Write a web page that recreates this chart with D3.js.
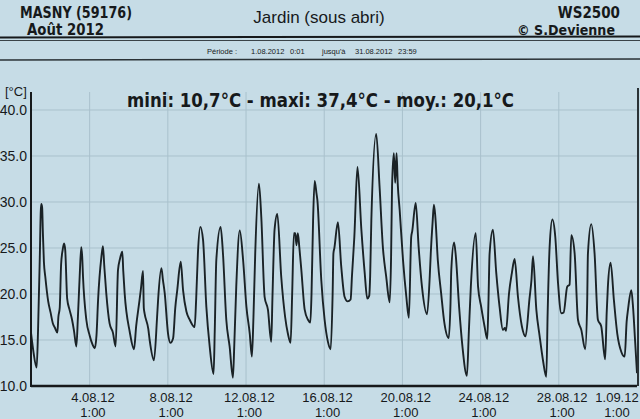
<!DOCTYPE html>
<html><head><meta charset="utf-8">
<script src="https://cdn.jsdelivr.net/npm/d3@7"></script>
<style>html,body{margin:0;padding:0;background:#c6dce6;overflow:hidden}</style>
</head><body>
<svg id="c" width="640" height="419"></svg>
<script>
// time in days since 1.08.2012 0:00, temperature in °C
const tDay = [
 0.0,0.12,0.29,0.36,0.45,0.5,0.53,0.57,0.61,0.66,0.73,0.88,
 1.0,1.12,1.23,1.35,1.40,1.47,1.54,1.62,1.69,1.75,1.85,1.97,
 2.1,2.2,2.32,2.40,2.49,2.57,2.62,2.66,2.83,
 3.0,3.15,3.26,3.35,3.43,3.6,3.68,3.75,3.85,
 4.02,4.19,4.33,4.45,4.55,4.67,4.72,4.79,
 5.05,5.27,5.38,5.55,5.62,5.73,5.77,5.81,
 6.0,6.07,6.29,6.45,6.5,6.67,6.75,6.84,
 7.01,7.13,7.27,7.38,7.48,7.66,7.78,7.95,
 8.12,8.37,8.45,8.54,8.66,8.8,8.97,
 9.14,9.34,9.40,9.48,9.7,9.82,9.99,
 10.16,10.33,10.4,10.5,10.68,10.85,
 11.02,11.19,11.3,11.38,11.47,11.66,11.78,11.95,
 12.12,12.29,12.35,12.46,12.6,12.8,
 13.0,13.14,13.28,13.36,13.45,13.52,13.58,13.65,13.73,13.83,
 14.0,14.17,14.29,14.35,14.43,14.51,14.6,14.65,14.85,
 15.02,15.19,15.33,15.43,15.47,15.52,15.7,15.87,
 16.04,16.2,16.35,16.42,16.54,16.7,16.9,
 17.07,17.2,17.3,17.35,17.41,17.66,17.83,
 18.0,18.17,18.35,18.42,18.47,18.56,18.63,18.7,18.76,18.86,
 19.03,19.2,19.33,19.45,19.5,19.68,19.83,
 20.0,20.26,20.4,20.45,20.55,20.61,20.68,20.81,20.98,
 21.15,21.37,21.46,21.5,21.64,21.72,21.9,
 22.07,22.3,22.4,22.5,22.75,22.87,
 23.03,23.2,23.34,23.4,23.46,23.63,23.8,23.97,
 24.14,24.24,24.3,24.45,24.6,24.74,24.91,
 25.11,25.3,25.5,25.6,25.68,25.85,
 26.02,26.19,26.36,26.43,26.53,26.67,26.82,26.96,
 27.13,27.25,27.43,27.55,27.64,27.81,27.98,
 28.15,28.35,28.45,28.49,28.66,28.83,
 29.0,29.17,29.37,29.45,29.51,29.65,29.82,29.99,
 30.2,30.37,30.47,30.54,30.71,30.8,30.9,31.0
];
const tempC = [
 15.8,13.8,12.0,16.0,24.0,29.0,29.8,29.4,26.5,23.5,21.9,19.2,
 18.0,16.8,16.3,15.8,17.5,18.5,23.2,24.8,25.5,24.8,19.5,18.3,
 17.2,16.0,14.3,17.5,21.9,25.1,24.0,21.9,17.2,
 15.5,14.5,14.1,15.5,19.3,24.0,25.2,23.0,20.1,
 16.8,15.8,14.3,22.6,23.8,24.6,22.5,20.1,
 15.9,14.0,16.5,19.3,20.5,22.5,18.5,17.9,
 16.2,15.0,12.8,17.5,19.3,22.8,21.5,20.1,
 15.7,14.7,15.2,18.5,20.4,23.5,20.4,18.1,
 17.2,16.4,19.5,24.5,27.3,25.9,18.6,
 14.3,11.3,16.0,23.7,27.3,24.4,17.2,
 14.3,10.9,14.5,20.8,26.9,23.7,
 18.6,15.7,13.2,17.5,24.4,32.0,28.4,19.7,
 18.3,14.8,19.5,27.0,28.7,21.9,
 17.5,15.7,14.7,20.0,26.6,26.6,25.3,26.6,25.0,22.6,
 18.3,17.2,16.9,20.0,28.0,32.3,31.0,30.2,21.5,
 17.2,14.8,14.0,20.0,24.4,25.0,27.8,23.0,
 19.7,19.2,19.4,22.0,26.2,33.8,27.0,
 22.3,19.5,19.8,22.0,28.0,37.4,31.7,
 25.1,21.9,19.1,24.0,31.7,35.3,32.1,35.3,32.0,29.1,
 23.7,19.7,17.4,26.2,26.8,29.9,25.1,
 20.8,17.8,22.0,24.4,28.0,29.7,28.5,23.7,20.1,
 16.8,15.2,19.0,22.6,25.6,24.4,18.6,
 14.3,11.1,16.0,20.8,26.6,20.8,
 18.6,16.5,15.1,19.0,24.4,27.0,22.3,18.6,
 16.1,16.3,16.0,20.0,22.3,23.8,19.7,
 16.5,15.4,19.5,21.5,24.1,18.3,
 15.4,12.8,11.0,18.0,25.1,28.1,26.2,21.2,
 17.9,18.0,20.8,21.0,26.4,24.4,17.2,
 16.1,14.0,19.0,24.4,27.6,24.4,
 17.2,16.5,12.9,18.0,20.8,23.4,19.3,15.7,
 13.7,13.2,17.0,18.3,20.4,18.5,15.0,11.4
];
const yTicks = [10, 15, 20, 25, 30, 35, 40];
const xTickDays = [3, 7, 11, 15, 19, 23, 27, 31];
const xTickLabels = ["4.08.12", "8.08.12", "12.08.12", "16.08.12", "20.08.12", "24.08.12", "28.08.12", "1.09.12"];
const xTickTime = "1:00";
const titleText = "mini: 10,7°C - maxi: 37,4°C - moy.: 20,1°C";
const periodParts = ["Période :", "1.08.2012", "0:01", "jusqu'à", "31.08.2012", "23:59"];

const W = 640, H = 419;
const svg = d3.select("#c");
const ink = "#16191b";
svg.append("rect").attr("width", W).attr("height", H).attr("fill", "#c6dce6");

const x = d3.scaleLinear().domain([0, 31]).range([31, 637]);
const y = d3.scaleLinear().domain([10, 40]).range([386, 110]);

// header
const hdr = svg.append("g").attr("fill", ink);
hdr.append("text").attr("x", 20).attr("y", 18).attr("font-family", "DejaVu Sans Condensed, DejaVu Sans")
  .attr("font-weight", "bold").attr("font-size", 15).attr("textLength", 112).attr("lengthAdjust", "spacingAndGlyphs").text("MASNY (59176)");
hdr.append("text").attr("x", 27).attr("y", 35).attr("font-family", "DejaVu Sans Condensed, DejaVu Sans")
  .attr("font-weight", "bold").attr("font-size", 15).attr("textLength", 77).attr("lengthAdjust", "spacingAndGlyphs").text("Août  2012");
hdr.append("text").attr("x", 319).attr("y", 23).attr("text-anchor", "middle").attr("font-family", "Liberation Sans, Arial")
  .attr("font-size", 17).text("Jardin (sous abri)");
hdr.append("text").attr("x", 620).attr("y", 18).attr("text-anchor", "end").attr("font-family", "DejaVu Sans Condensed, DejaVu Sans")
  .attr("font-weight", "bold").attr("font-size", 15).text("WS2500");
hdr.append("text").attr("x", 517).attr("y", 35).attr("font-family", "DejaVu Sans Condensed, DejaVu Sans")
  .attr("font-weight", "bold").attr("font-size", 14.5).attr("textLength", 98).attr("lengthAdjust", "spacingAndGlyphs").text("© S.Devienne");
svg.append("line").attr("x1", 0).attr("x2", W).attr("y1", 37.5).attr("y2", 36.5).attr("stroke", ink).attr("stroke-width", 2);
svg.append("line").attr("x1", 0).attr("x2", W).attr("y1", 40.5).attr("y2", 40.5).attr("stroke", "#3a4348").attr("stroke-width", 1);
svg.append("line").attr("x1", 0).attr("x2", W).attr("y1", 60).attr("y2", 59).attr("stroke", "#2a3236").attr("stroke-width", 1.5);
const perX = [207, 251, 290, 322, 355, 398];
const per = svg.append("g").attr("font-family", "Liberation Sans, Arial").attr("font-size", 7.5).attr("fill", ink);
periodParts.forEach((t, i) => per.append("text").attr("x", perX[i]).attr("y", 54).text(t));

// grid
const grid = svg.append("g").attr("stroke", "#a9c1cc").attr("stroke-width", 1);
grid.selectAll("line.h").data(yTicks.filter(v => v > 10)).join("line")
  .attr("x1", x(0)).attr("x2", x(31)).attr("y1", d => y(d)).attr("y2", d => y(d));
grid.selectAll("line.v").data(xTickDays.filter(d => d < 31)).join("line")
  .attr("class", "v").attr("x1", d => x(d)).attr("x2", d => x(d)).attr("y1", 92).attr("y2", y(10));

// y axis labels
const yAxis = d3.axisLeft(y).tickValues(yTicks).tickFormat(d3.format(".1f")).tickSize(0).tickPadding(3);
const ya = svg.append("g").attr("transform", `translate(${x(0) - 1},0)`).call(yAxis);
ya.select(".domain").remove();
ya.selectAll("text").attr("font-family", "Liberation Sans, Arial").attr("font-size", 14).attr("fill", ink);
svg.append("text").attr("x", 5).attr("y", 96).attr("font-family", "Liberation Sans, Arial").attr("font-size", 13)
  .attr("fill", ink).text("[°C]");

// x labels
const xl = svg.append("g").attr("font-family", "Liberation Sans, Arial").attr("font-size", 13).attr("fill", ink).attr("text-anchor", "middle");
xTickDays.forEach((d, i) => {
  const cx = Math.min(x(d + 1 / 24) + 2.5, 617);
  xl.append("text").attr("x", cx).attr("y", 401.5).text(xTickLabels[i]);
  xl.append("text").attr("x", cx).attr("y", 416.5).text(xTickTime);
});

// data line
const pts = tDay.map((t, i) => [t, tempC[i]]);
svg.append("path").datum(pts)
  .attr("d", d3.line().curve(d3.curveMonotoneX).x(d => x(d[0])).y(d => y(d[1])))
  .attr("fill", "none").attr("stroke", "#1a2226").attr("stroke-width", 1.9).attr("stroke-linejoin", "round");

// frame
svg.append("line").attr("x1", x(0)).attr("x2", x(0)).attr("y1", 92).attr("y2", y(10) + 1).attr("stroke", ink).attr("stroke-width", 2);
svg.append("line").attr("x1", x(0)).attr("x2", x(31)).attr("y1", y(10)).attr("y2", y(10)).attr("stroke", ink).attr("stroke-width", 2.5);
svg.append("line").attr("x1", x(31) + 1).attr("x2", x(31) + 1).attr("y1", 88).attr("y2", y(10)).attr("stroke", "#2a3236").attr("stroke-width", 2);

// title
svg.append("text").attr("x", 320.5).attr("y", 107).attr("text-anchor", "middle")
  .attr("font-family", "DejaVu Sans Condensed, DejaVu Sans").attr("font-weight", "bold").attr("font-size", 19)
  .attr("textLength", 387).attr("lengthAdjust", "spacingAndGlyphs").attr("fill", ink).text(titleText);
</script>
</body></html>
